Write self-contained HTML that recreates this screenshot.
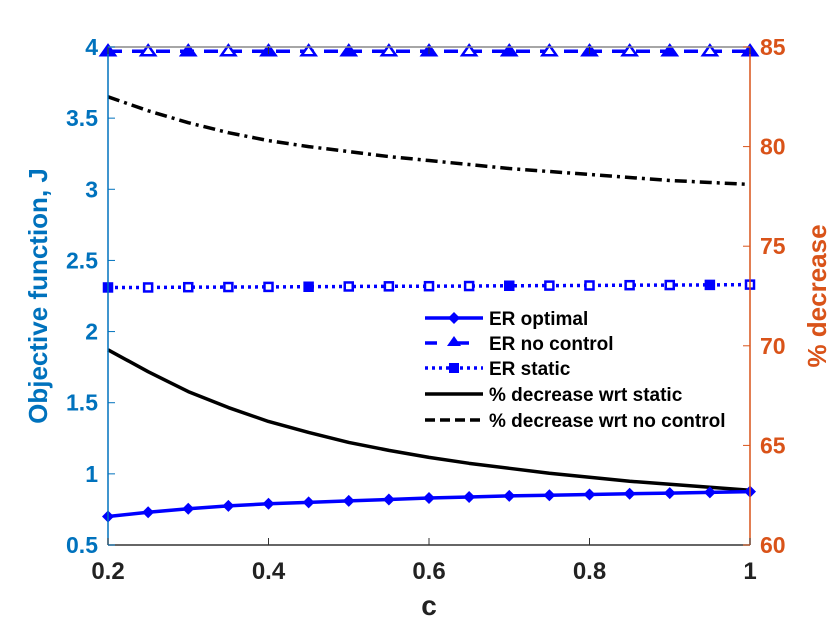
<!DOCTYPE html>
<html><head><meta charset="utf-8"><style>
body{margin:0;background:#fff;}
svg text{font-family:"Liberation Sans",sans-serif;font-weight:bold;}
</style></head><body>
<svg id="chart" width="830" height="623" viewBox="0 0 830 623" xmlns="http://www.w3.org/2000/svg">
<rect width="830" height="623" fill="#fff"/>
<g id="series"></g>
<g id="axes"></g>
</svg>
<script>
const cVals=[0.2,0.25,0.3,0.35,0.4,0.45,0.5,0.55,0.6,0.65,0.7,0.75,0.8,0.85,0.9,0.95,1.0];
const erOptimal=[0.70,0.73,0.755,0.775,0.79,0.80,0.81,0.82,0.83,0.837,0.845,0.85,0.855,0.86,0.865,0.87,0.875];
const erNoControl=[3.97,3.97,3.97,3.97,3.97,3.97,3.97,3.97,3.97,3.97,3.97,3.97,3.97,3.97,3.97,3.97,3.97];
const erStatic=[2.31,2.31,2.312,2.313,2.314,2.315,2.317,2.318,2.319,2.32,2.322,2.323,2.324,2.326,2.327,2.328,2.33];
const decStatic=[69.8,68.7,67.7,66.9,66.2,65.65,65.15,64.75,64.4,64.1,63.85,63.6,63.4,63.2,63.05,62.9,62.75];
const decNoControl=[82.5,81.8,81.2,80.7,80.3,80.0,79.75,79.5,79.3,79.1,78.9,78.75,78.6,78.45,78.3,78.2,78.1];
const xTicks=[0.2,0.4,0.6,0.8,1];
const xTickLabels=["0.2","0.4","0.6","0.8","1"];
const yLTicks=[0.5,1,1.5,2,2.5,3,3.5,4];
const yLTickLabels=["0.5","1","1.5","2","2.5","3","3.5","4"];
const yRTicks=[60,65,70,75,80,85];
const yRTickLabels=["60","65","70","75","80","85"];

const L=108,R=750,T=47,B=545;
const xs=v=>L+(v-0.2)/0.8*(R-L);
const yl=v=>B-(v-0.5)/3.5*(B-T);
const yr=v=>B-(v-60)/25*(B-T);
const NS="http://www.w3.org/2000/svg";
const S=document.getElementById('series'),A=document.getElementById('axes');
function mk(tag,attrs,parent){const e=document.createElementNS(NS,tag);for(const k in attrs)e.setAttribute(k,attrs[k]);parent.appendChild(e);return e;}
function line(vals,yf,stroke,dash,name){
  const p=mk('polyline',{points:vals.map((v,i)=>xs(cVals[i])+','+yf(v)).join(' '),fill:'none',stroke:stroke,'stroke-width':3.5,'stroke-dasharray':dash,'stroke-linejoin':'round'},S);
  
  
}
line(decStatic,yr,'#000','', 'line-decrease-wrt-static');
line(decNoControl,yr,'#000','12,5,3,5','line-decrease-wrt-no-control');
line(erStatic,yl,'#0000ff','3,4','line-er-static');
line(erNoControl,yl,'#0000ff','14,10','line-er-no-control');
line(erOptimal,yl,'#0000ff','','line-er-optimal');
cVals.forEach((c,i)=>{
  const x=xs(c);
  let y=yl(erOptimal[i]);
  const d=mk('polygon',{points:`${x},${y-6} ${x+6},${y} ${x},${y+6} ${x-6},${y}`,fill:'#0000ff'},S);
  
  
  y=yl(erStatic[i]);
  const s=mk('rect',{x:x-4,y:y-4,width:8,height:8,fill:i%5==0?'#0000ff':'#fff',stroke:'#0000ff','stroke-width':2.5},S);
  
  
  y=yl(erNoControl[i]);
  const t=mk('polygon',{points:`${x},${y-6} ${x+7},${y+4} ${x-7},${y+4}`,fill:i%2==0?'#0000ff':'#fff',stroke:'#0000ff','stroke-width':2.5},S);
  
  
});
mk('line',{x1:L,y1:T,x2:R,y2:T,stroke:'#888','stroke-width':1.5},A);
mk('line',{x1:L,y1:B,x2:R,y2:B,stroke:'#333','stroke-width':1.5},A);
mk('line',{x1:L,y1:T,x2:L,y2:B,stroke:'#0072BD','stroke-width':1.5},A);
mk('line',{x1:R,y1:T,x2:R,y2:B,stroke:'#D95319','stroke-width':1.5},A);
xTicks.forEach((v,i)=>{const x=xs(v);
  mk('line',{x1:x,y1:B,x2:x,y2:B-7,stroke:'#333','stroke-width':1},A);
  mk('line',{x1:x,y1:T,x2:x,y2:T+7,stroke:'#333','stroke-width':1},A);
  const t=mk('text',{x:x,y:B+34,'text-anchor':'middle','font-size':24,fill:'#222'},A);t.textContent=xTickLabels[i];
  
  });
yLTicks.forEach((v,i)=>{const y=yl(v);
  mk('line',{x1:L,y1:y,x2:L+7,y2:y,stroke:'#0072BD','stroke-width':1},A);
  const t=mk('text',{x:L-10,y:y+8,'text-anchor':'end','font-size':23,fill:'#0072BD'},A);t.textContent=yLTickLabels[i];
  
  });
yRTicks.forEach((v,i)=>{const y=yr(v);
  mk('line',{x1:R,y1:y,x2:R-7,y2:y,stroke:'#D95319','stroke-width':1},A);
  const t=mk('text',{x:R+10,y:y+8,'text-anchor':'start','font-size':23,fill:'#D95319'},A);t.textContent=yRTickLabels[i];
  
  });
</script>
<svg style="position:absolute;left:0;top:0" width="830" height="623">
<text x="429" y="615" text-anchor="middle" font-size="28" fill="#222">c</text>
<text transform="translate(47,296) rotate(-90)" text-anchor="middle" font-size="26" fill="#0072BD">Objective function, J</text>
<text transform="translate(826,296) rotate(-90)" text-anchor="middle" font-size="26" fill="#D95319">% decrease</text>
<g font-size="19" fill="#000">
 <g><line x1="425" y1="318" x2="483" y2="318" stroke="#0000ff" stroke-width="3.5"/><polygon points="454,312 460,318 454,324 448,318" fill="#0000ff"/><text x="489" y="325">ER optimal</text></g>
 <g><line x1="425" y1="343" x2="483" y2="343" stroke="#0000ff" stroke-width="3.5" stroke-dasharray="12,20"/><polygon points="454,336 461,346 447,346" fill="#0000ff"/><text x="489" y="350">ER no control</text></g>
 <g><line x1="425" y1="368" x2="483" y2="368" stroke="#0000ff" stroke-width="3.5" stroke-dasharray="3,4"/><rect x="449" y="363" width="10" height="10" fill="#0000ff"/><text x="489" y="375">ER static</text></g>
 <g><line x1="425" y1="394" x2="483" y2="394" stroke="#000" stroke-width="3.5"/><text x="489" y="401">% decrease wrt static</text></g>
 <g><line x1="425" y1="420" x2="483" y2="420" stroke="#000" stroke-width="3.5" stroke-dasharray="10,5"/><text x="489" y="427">% decrease wrt no control</text></g>
</g>
</svg>
</body></html>
